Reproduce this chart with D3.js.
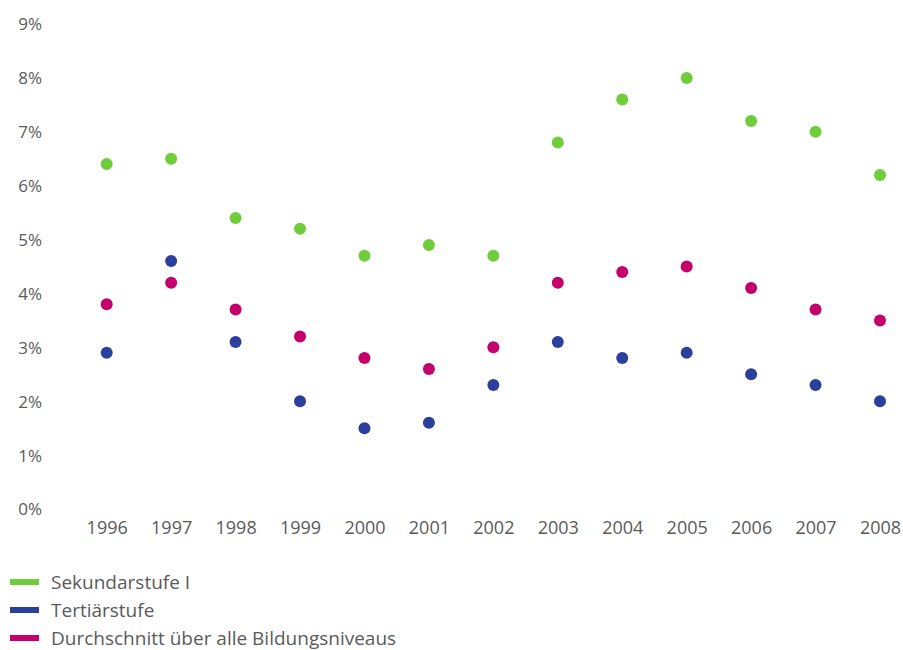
<!DOCTYPE html>
<html><head><meta charset="utf-8">
<script src="https://cdn.jsdelivr.net/npm/d3@7"></script>
<style>
body{margin:0;background:#fff;}
text{font-family:"Open Sans",sans-serif;fill:#5a5a5a;}
</style></head>
<body><svg id="c" width="903" height="650"></svg>
<script>
const years = [1996,1997,1998,1999,2000,2001,2002,2003,2004,2005,2006,2007,2008];
const sekundarstufe = [6.4,6.5,5.4,5.2,4.7,4.9,4.7,6.8,7.6,8.0,7.2,7.0,6.2];
const tertiaerstufe = [2.9,4.6,3.1,2.0,1.5,1.6,2.3,3.1,2.8,2.9,2.5,2.3,2.0];
const durchschnitt = [3.8,4.2,3.7,3.2,2.8,2.6,3.0,4.2,4.4,4.5,4.1,3.7,3.5];
const yTicks = [0,1,2,3,4,5,6,7,8,9];
const seriesNames = ["Sekundarstufe I","Tertiärstufe","Durchschnitt über alle Bildungsniveaus"];
const colors = ["#6fcd3c","#2b3f9c","#c4006d"];

const svg = d3.select("#c");
const x = d3.scalePoint().domain(years).range([106.7,880]);
const y = d3.scaleLinear().domain([0,9]).range([509,24]);

const yAxis = svg.append("g").attr("transform","translate(42,0)")
  .call(d3.axisLeft(y).tickValues(yTicks).tickFormat(d=>d+"%").tickSize(0).tickPadding(0));
yAxis.select(".domain").remove();
yAxis.selectAll("text").style("font-size","17px").attr("fill","#5a5a5a").attr("dy","0.35em");

const xAxis = svg.append("g").attr("transform","translate(0,528)")
  .call(d3.axisBottom(x).tickSize(0).tickPadding(0).tickFormat(d3.format("d")));
xAxis.select(".domain").remove();
xAxis.selectAll("text").style("font-size","18px").attr("fill","#5a5a5a").attr("y",0).attr("dy","0.35em");

const all = [sekundarstufe, tertiaerstufe, durchschnitt];
all.forEach((vals,i)=>{
  svg.append("g").selectAll("circle").data(vals).join("circle")
    .attr("cx",(d,j)=>x(years[j])).attr("cy",d=>y(d)).attr("r",6).attr("fill",colors[i]);
});

const leg = svg.append("g");
seriesNames.forEach((n,i)=>{
  const yy = 582 + i*28;
  leg.append("rect").attr("x",10).attr("y",yy-3).attr("width",29).attr("height",6).attr("fill",colors[i]);
  leg.append("text").attr("x",51).attr("y",yy).attr("dy","0.35em").style("font-size","19px").text(n);
});
</script></body></html>
